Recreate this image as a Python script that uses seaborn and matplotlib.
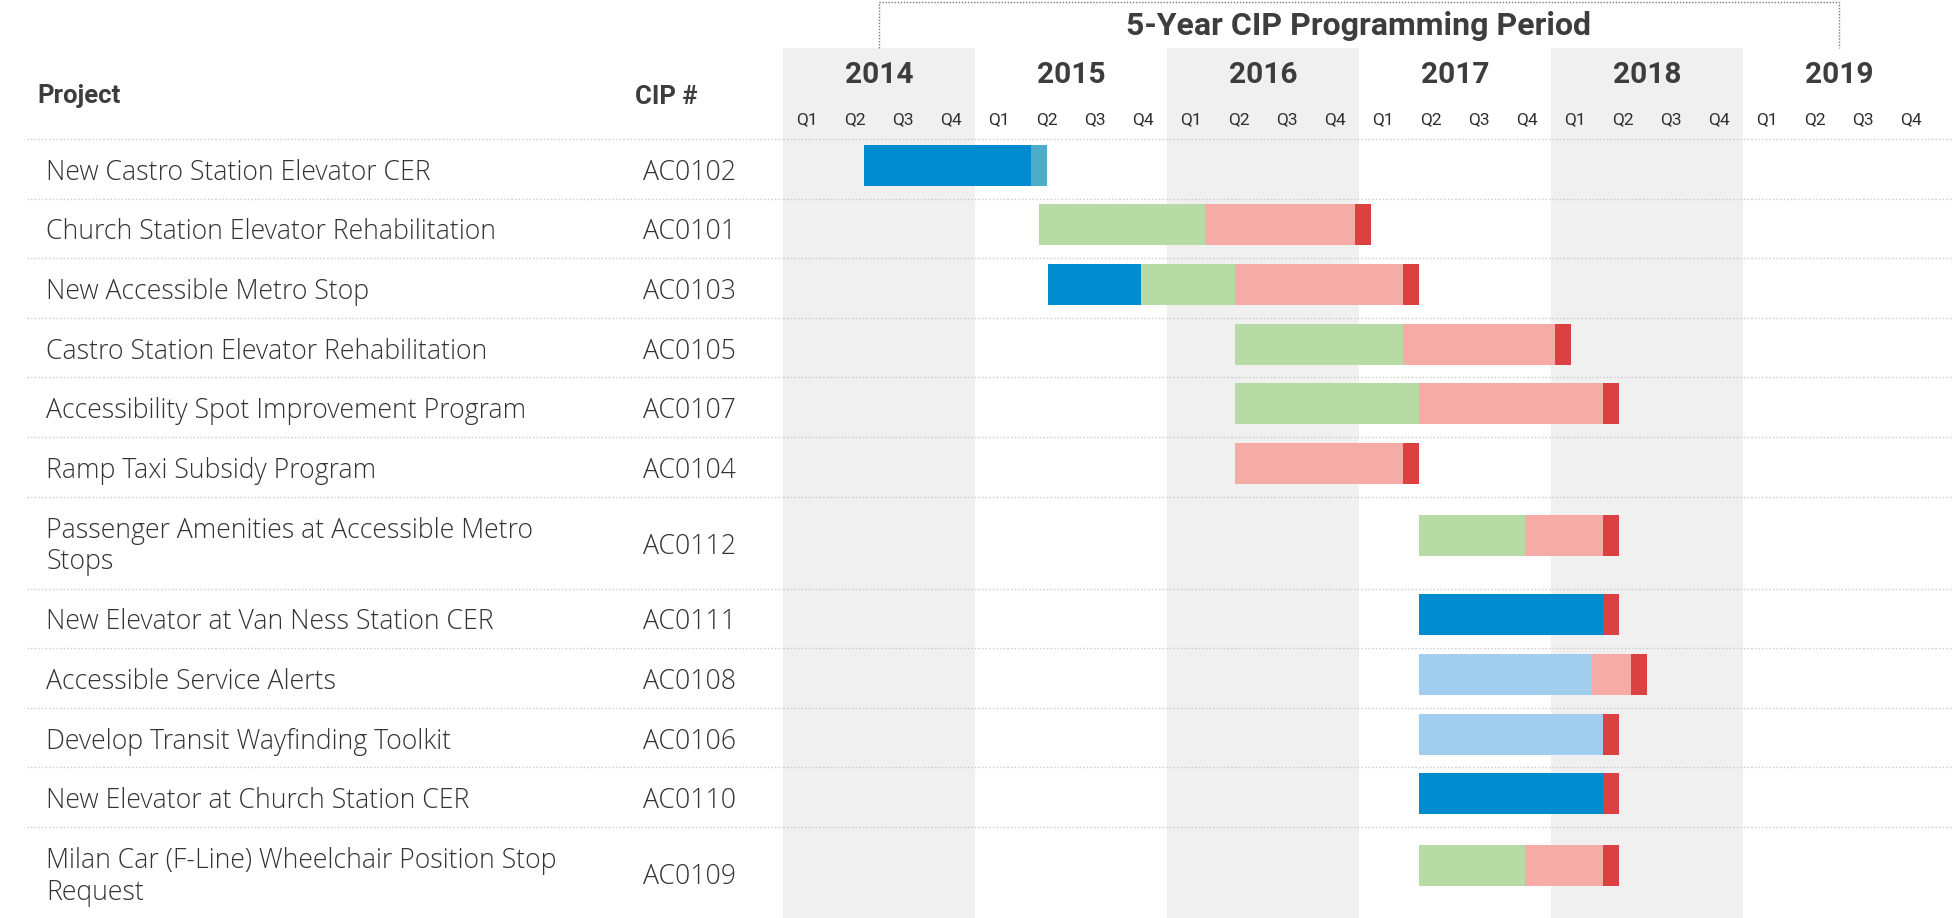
import matplotlib
matplotlib.use("Agg")
import matplotlib.pyplot as plt
import seaborn as sns
import numpy as np

# ---------------- data ----------------
projects = [
    "New Castro Station Elevator CER",
    "Church Station Elevator Rehabilitation",
    "New Accessible Metro Stop",
    "Castro Station Elevator Rehabilitation",
    "Accessibility Spot Improvement Program",
    "Ramp Taxi Subsidy Program",
    "Passenger Amenities at Accessible Metro\nStops",
    "New Elevator at Van Ness Station CER",
    "Accessible Service Alerts",
    "Develop Transit Wayfinding Toolkit",
    "New Elevator at Church Station CER",
    "Milan Car (F-Line) Wheelchair Position Stop\nRequest",
]
cip_numbers = ["AC0102", "AC0101", "AC0103", "AC0105", "AC0107", "AC0104",
               "AC0112", "AC0111", "AC0108", "AC0106", "AC0110", "AC0109"]

years = [2014, 2015, 2016, 2017, 2018, 2019]
quarters = ["Q1", "Q2", "Q3", "Q4"]
period_title = "5-Year CIP Programming Period"

# segments: row index, phase, start / end in months since Jan 2014
bar_row = [0, 0,
           1, 1, 1,
           2, 2, 2, 2,
           3, 3, 3,
           4, 4, 4,
           5, 5,
           6, 6, 6,
           7, 7,
           8, 8, 8,
           9, 9,
           10, 10,
           11, 11, 11]
bar_phase = ["CER", "CER closeout",
             "Design", "Construction", "Closeout",
             "CER", "Design", "Construction", "Closeout",
             "Design", "Construction", "Closeout",
             "Design", "Construction", "Closeout",
             "Construction", "Closeout",
             "Design", "Construction", "Closeout",
             "CER", "Closeout",
             "Planning", "Construction", "Closeout",
             "Planning", "Closeout",
             "CER", "Closeout",
             "Design", "Construction", "Closeout"]
bar_start = [5.06, 15.5,
             16.0, 26.4, 35.75,
             16.56, 22.4, 28.25, 38.75,
             28.25, 38.75, 48.25,
             28.25, 39.75, 51.25,
             28.25, 38.75,
             39.75, 46.4, 51.25,
             39.75, 51.25,
             39.75, 50.55, 53.0,
             39.75, 51.25,
             39.75, 51.25,
             39.75, 46.4, 51.25]
bar_end = [15.5, 16.5,
           26.4, 35.75, 36.75,
           22.4, 28.25, 38.75, 39.75,
           38.75, 48.25, 49.25,
           39.75, 51.25, 52.25,
           38.75, 39.75,
           46.4, 51.25, 52.25,
           51.25, 52.25,
           50.55, 53.0, 54.0,
           51.25, 52.25,
           51.25, 52.25,
           46.4, 51.25, 52.25]

phase_colors = {
    "CER": "#008ccf",
    "CER closeout": "#4badc7",
    "Planning": "#a1ceee",
    "Design": "#b8dba6",
    "Construction": "#f7aba7",
    "Closeout": "#dc4141",
}

# ---------------- style ----------------
sns.set_theme(style="white")
plt.rcParams["font.family"] = ["Roboto", "DejaVu Sans"]
body_font = ["Open Sans", "Roboto", "DejaVu Sans"]

W, H = 1953, 918
fig = plt.figure(figsize=(W / 100, H / 100), dpi=100)
fig.patch.set_facecolor("white")

# table axes (pixel coordinates)
ax_tab = fig.add_axes([0, 0, 1, 1])
ax_tab.set_xlim(0, W)
ax_tab.set_ylim(H, 0)
ax_tab.axis("off")

# gantt axes (months on x, pixel rows on y)
gx0 = 783
px_per_month = 16.0
ax = fig.add_axes([gx0 / W, 0, (W - gx0) / W, 1])
ax.set_xlim(0, (W - gx0) / px_per_month)
ax.set_ylim(H, 0)
ax.axis("off")
ax.patch.set_alpha(0)
ax.set_zorder(2)

text_col = "#333333"
head_col = "#3d3d3d"
line_col = "#c9c9c9"
dot = (0, (1, 1.6))

# row layout
header_y = 139.0
single_h, double_h = 59.6, 92.0
row_tops, row_h = [], []
y = header_y
for name in projects:
    h = double_h if "\n" in name else single_h
    row_tops.append(y)
    row_h.append(h)
    y += h

# gray bands for alternating years
band_top = 48
for i, yr in enumerate(years):
    if i % 2 == 0:
        ax.add_patch(plt.Rectangle((12 * i, band_top), 12, H - band_top,
                                   facecolor="#f0f0f0", edgecolor="none", zorder=0))
    ax.text(12 * i + 6, 83, str(yr), ha="center", va="baseline",
            fontsize=21.5, fontweight="bold", color=head_col)
    for q, ql in enumerate(quarters):
        ax.text(12 * i + 3 * q + 1.5, 124.5, ql, ha="center", va="baseline",
                fontsize=12.5, fontweight="normal", color="#2e2e2e")

# bracket and title
br_l, br_r = 6, 66
ax.plot([br_l, br_l, br_r, br_r], [band_top, 1.5, 1.5, band_top],
        color="#7a7a7a", lw=1, ls=(0, (1, 1.2)), zorder=3, clip_on=False)
ax.text((br_l + br_r) / 2, 35, period_title, ha="center", va="baseline",
        fontsize=23, fontweight="bold", color=head_col,
        bbox=dict(facecolor="white", edgecolor="none", pad=2))

# headers
ax_tab.text(37, 103.5, "Project", ha="left", va="baseline",
            fontsize=18.5, fontweight="bold", color=head_col)
ax_tab.text(635, 103.5, "CIP #", ha="left", va="baseline",
            fontsize=18.5, fontweight="bold", color=head_col)

# row separators
sep_ys = [header_y] + row_tops[1:]
for sy in sep_ys:
    ax_tab.hlines(sy, 27, gx0, color=line_col, lw=1, ls=dot, zorder=1)
    ax.hlines(sy, 0, (W - gx0) / px_per_month, color=line_col, lw=1, ls=dot, zorder=1)

# table text
body_kw = dict(ha="left", va="baseline", fontsize=19.2, fontweight="light",
               color=text_col, family=body_font)
for r, (name, cip) in enumerate(zip(projects, cip_numbers)):
    center = row_tops[r] + row_h[r] / 2
    lines = name.split("\n")
    if len(lines) == 1:
        ax_tab.text(46, center + 11, lines[0], **body_kw)
    else:
        for k, ln in enumerate(lines):
            ax_tab.text(46, center - 5 + 31.5 * k, ln, **body_kw)
    ax_tab.text(643, center + 11, cip, **body_kw)

# bars
bar_h = 41
for r, ph, s, e in zip(bar_row, bar_phase, bar_start, bar_end):
    center = row_tops[r] + row_h[r] / 2 - (7.5 if "\n" in projects[r] else 3.5)
    ax.barh(center, e - s, left=s, height=bar_h, color=phase_colors[ph],
            edgecolor="none", linewidth=0, zorder=2)

fig.savefig("out.png", dpi=100, facecolor="white")
